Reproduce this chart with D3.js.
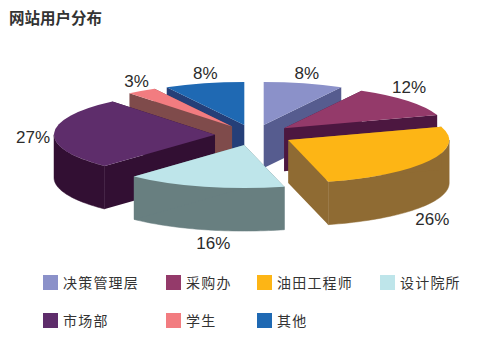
<!DOCTYPE html>
<html>
<head>
<meta charset="utf-8">
<script src="https://cdn.jsdelivr.net/npm/d3@7"></script>
<style>
  html, body { margin: 0; padding: 0; background: #fff; }
  svg { display: block; }
  text { font-family: "Noto Sans CJK SC", sans-serif; fill: #333; }
  .pct { font-family: "Liberation Sans", Arial, sans-serif; font-size: 17px; text-anchor: middle; fill: #2b2b2b; }
</style>
</head>
<body>
<div class="canvas"></div>
<script>
const title = "网站用户分布";
const categories = ["决策管理层", "采购办", "油田工程师", "设计院所", "市场部", "学生", "其他"];
const shares = [8, 12, 26, 16, 27, 3, 8];
const topColors = ["#8b91c9", "#943a6a", "#fdb515", "#bee5ea", "#5e2d6b", "#f27c80", "#1f69b3"];
const wallColors = ["#565c8f", "#4c1740", "#8f6b33", "#687f80", "#320f33", "#7f4b4b", "#253f78"];

const dim = { width: 488, height: 360 };
const cen = { x: 254, y: 135 };
const rx = 161;
const squash = 43 / 161;
const depth = 43;
const explode = 39;

// nudges of each % label from the rim of its slice
const labelNudge = [
  [3, -10], [1, -14], [3, 15], [9, 13], [-21, 4], [-5, -10], [1, -10],
];

const svg = d3
  .select(".canvas")
  .append("svg")
  .attr("width", dim.width)
  .attr("height", dim.height);

svg
  .append("text")
  .attr("x", 9)
  .attr("y", 24)
  .attr("font-size", 15.5)
  .attr("font-weight", 700)
  .text(title);

const pie = d3.pie().sort(null).value((d) => d.share);
const slices = pie(
  categories.map((name, i) => ({ name, share: shares[i], i }))
);

const arcPath = d3.arc().outerRadius(rx).innerRadius(0);

// flat position on the squashed disc, angle 0 = up, clockwise
const project = (a, r) => [r * Math.sin(a), -r * Math.cos(a) * squash];
const midAngle = (d) => (d.startAngle + d.endAngle) / 2;

const apex = (d) => {
  const [x, y] = project(midAngle(d), explode);
  return [cen.x + x, cen.y + y];
};

const wallLine = d3.line();

// back slices first so the front ones paint over them
const order = slices
  .slice()
  .sort((a, b) => Math.cos(midAngle(b)) - Math.cos(midAngle(a)));

const graph = svg.append("g");

const sliceGroups = graph
  .selectAll("g.slice")
  .data(order)
  .enter()
  .append("g")
  .attr("class", "slice")
  .attr("transform", (d) => `translate(${apex(d)})`);

// outer wall, only the front half of the rim can be seen
sliceGroups
  .append("path")
  .attr("fill", (d) => wallColors[d.data.i])
  .attr("stroke", (d) => wallColors[d.data.i])
  .attr("stroke-width", 0.5)
  .attr("d", (d) => {
    const from = Math.max(d.startAngle, Math.PI / 2);
    const to = Math.min(d.endAngle, (3 * Math.PI) / 2);
    if (to <= from) return null;
    const steps = d3.range(0, 41).map((k) => from + ((to - from) * k) / 40);
    const top = steps.map((a) => project(a, rx));
    const bottom = top.map(([x, y]) => [x, y + depth]).reverse();
    return wallLine(top.concat(bottom)) + "Z";
  });

// the two cut walls
sliceGroups
  .append("path")
  .attr("fill", (d) => wallColors[d.data.i])
  .attr("d", (d) => {
    const a = project(d.startAngle, rx);
    const b = project(d.endAngle, rx);
    return (
      wallLine([[0, 0], a, [a[0], a[1] + depth], [0, depth]]) + "Z" +
      wallLine([[0, 0], b, [b[0], b[1] + depth], [0, depth]]) + "Z"
    );
  });

// top face
sliceGroups
  .append("path")
  .attr("fill", (d) => topColors[d.data.i])
  .attr("transform", `scale(1, ${squash})`)
  .attr("d", arcPath);

// % labels
svg
  .selectAll("text.pct")
  .data(slices)
  .enter()
  .append("text")
  .attr("class", "pct")
  .attr("dy", "0.35em")
  .attr("x", (d) => apex(d)[0] + project(midAngle(d), rx)[0] + labelNudge[d.data.i][0])
  .attr("y", (d) => {
    const m = midAngle(d);
    const front = Math.cos(m) < 0 ? depth : 0;
    return apex(d)[1] + project(m, rx)[1] + front + labelNudge[d.data.i][1];
  })
  .text((d) => `${d.data.share}%`);

// legend, four to a row
const legendX = d3.scaleOrdinal().domain([0, 1, 2, 3]).range([43, 166, 257, 380]);
const legendY = d3.scaleOrdinal().domain([0, 1]).range([275, 313]);

const legend = svg
  .selectAll("g.legend")
  .data(categories)
  .enter()
  .append("g")
  .attr("class", "legend")
  .attr("transform", (d, i) => `translate(${legendX(i % 4)}, ${legendY(Math.floor(i / 4))})`);

legend
  .append("rect")
  .attr("width", 15)
  .attr("height", 15)
  .attr("fill", (d, i) => topColors[i]);

legend
  .append("text")
  .attr("x", 20)
  .attr("y", 13)
  .attr("font-size", 14)
  .attr("letter-spacing", 1.2)
  .text((d) => d);
</script>
</body>
</html>
